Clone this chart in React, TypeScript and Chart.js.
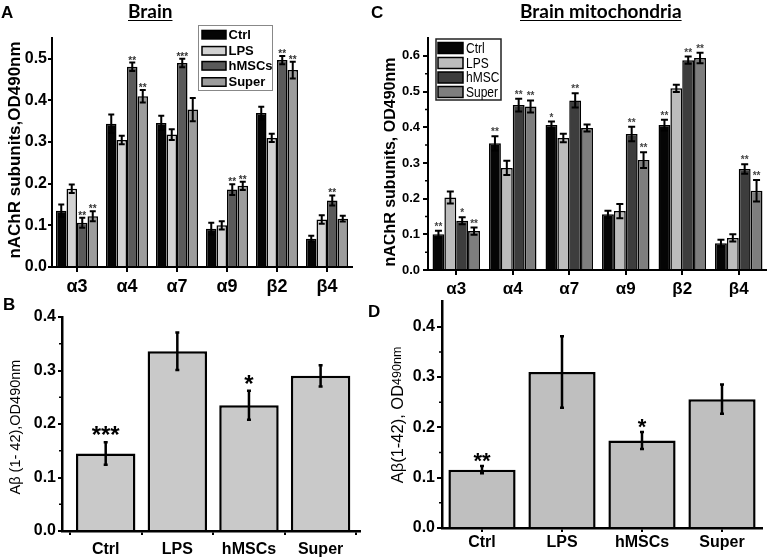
import React, { useEffect, useRef } from 'react';
import { Chart, registerables } from 'chart.js';

Chart.register(...registerables);

// ---------------- data ----------------
const subunits = ['α3', 'α4', 'α7', 'α9', 'β2', 'β4'];
const seriesNamesA = ['Ctrl', 'LPS', 'hMSCs', 'Super'];
const seriesNamesC = ['Ctrl', 'LPS', 'hMSC', 'Super'];

// Panel A: Brain
const brainCtrl = [0.135, 0.344, 0.346, 0.092, 0.370, 0.068];
const brainLps = [0.188, 0.305, 0.318, 0.100, 0.310, 0.114];
const brainHmsc = [0.106, 0.481, 0.490, 0.186, 0.497, 0.160];
const brainSuper = [0.122, 0.410, 0.378, 0.195, 0.473, 0.116];
const brainCtrlErr = [0.015, 0.022, 0.017, 0.014, 0.015, 0.007];
const brainLpsErr = [0.010, 0.010, 0.013, 0.010, 0.010, 0.010];
const brainHmscErr = [0.012, 0.010, 0.010, 0.013, 0.010, 0.012];
const brainSuperErr = [0.012, 0.015, 0.028, 0.010, 0.020, 0.007];
const brainCtrlStars = ['', '', '', '', '', ''];
const brainLpsStars = ['', '', '', '', '', ''];
const brainHmscStars = ['**', '**', '***', '**', '**', '**'];
const brainSuperStars = ['**', '**', '', '**', '**', ''];
const yTicksA = [0, 0.1, 0.2, 0.3, 0.4, 0.5];

// Panel C: Brain mitochondria
const mitoCtrl = [0.100, 0.355, 0.406, 0.156, 0.406, 0.075];
const mitoLps = [0.203, 0.286, 0.370, 0.165, 0.509, 0.090];
const mitoHmsc = [0.138, 0.462, 0.475, 0.381, 0.588, 0.283];
const mitoSuper = [0.109, 0.458, 0.398, 0.308, 0.594, 0.222];
const mitoCtrlErr = [0.010, 0.020, 0.010, 0.010, 0.015, 0.010];
const mitoLpsErr = [0.017, 0.020, 0.012, 0.020, 0.010, 0.010];
const mitoHmscErr = [0.010, 0.018, 0.020, 0.020, 0.010, 0.013];
const mitoSuperErr = [0.010, 0.017, 0.010, 0.022, 0.015, 0.030];
const mitoCtrlStars = ['**', '**', '*', '', '**', ''];
const mitoLpsStars = ['', '', '', '', '', ''];
const mitoHmscStars = ['*', '**', '**', '**', '**', '**'];
const mitoSuperStars = ['**', '**', '', '**', '**', '**'];
const yTicksC = [0, 0.1, 0.2, 0.3, 0.4, 0.5, 0.6];
const yMinorC = [0.05, 0.15, 0.25, 0.35, 0.45, 0.55];

// Panel B: Abeta brain
const groupsAb = ['Ctrl', 'LPS', 'hMSCs', 'Super'];
const abBrain = [0.145, 0.336, 0.235, 0.290];
const abBrainErr = [0.021, 0.035, 0.027, 0.020];
const abBrainStars = ['***', '', '*', ''];
const yTicksB = [0, 0.1, 0.2, 0.3, 0.4];
const yMinorB = [0.05, 0.15, 0.25, 0.35];

// Panel D: Abeta mitochondria
const abMito = [0.116, 0.310, 0.174, 0.256];
const abMitoErr = [0.007, 0.071, 0.017, 0.029];
const abMitoStars = ['**', '', '*', ''];
const yTicksD = [0, 0.1, 0.2, 0.3, 0.4];
const yMinorD = [0.05, 0.15, 0.25, 0.35];

// ---------------- styles ----------------
const SANS = '"Liberation Sans", Arial, sans-serif';
const colorsA = ['#050505', '#d2d2d2', '#5a5a5a', '#9c9c9c'];
const colorsC = ['#050505', '#bcbcbc', '#3d3d3d', '#7e7e7e'];
const colorB = '#c9c9c9';
const colorD = '#bfbfbf';

type LegendCfg = {
  box: [number, number, number, number];
  boxColor: string;
  boxWidth: number;
  swatchX: number;
  swatchW: number;
  swatchH: number;
  rows: number[];
  textX: number;
  font: string;
  sx: number;
};

type DecorCfg = {
  errors: number[][];
  stars: string[][];
  errWidth: number;
  cap: number;
  starFont: string;
  starColor: string;
  starDy: number;
  minor?: number[];
  minorLen?: number;
  yTitle?: { x: number; y: number; parts: { text: string; font: string }[] };
  legend?: LegendCfg;
};

function makeDecor(cfg: DecorCfg) {
  return {
    id: 'decor',
    afterDatasetsDraw(chart: any) {
      const ctx = chart.ctx as CanvasRenderingContext2D;
      const ys = chart.scales.y;
      chart.data.datasets.forEach((ds: any, di: number) => {
        const meta = chart.getDatasetMeta(di);
        const errs = cfg.errors[di] || [];
        const stars = cfg.stars[di] || [];
        meta.data.forEach((el: any, i: number) => {
          const raw = ds.data[i];
          const val = typeof raw === 'number' ? raw : raw.y;
          const e = errs[i] ?? 0;
          const x = el.x;
          const yT = ys.getPixelForValue(val + e);
          const yB = ys.getPixelForValue(val - e);
          ctx.save();
          ctx.strokeStyle = '#000';
          ctx.lineWidth = cfg.errWidth;
          ctx.beginPath();
          ctx.moveTo(x, yT);
          ctx.lineTo(x, yB);
          ctx.moveTo(x - cfg.cap, yT);
          ctx.lineTo(x + cfg.cap, yT);
          ctx.moveTo(x - cfg.cap, yB);
          ctx.lineTo(x + cfg.cap, yB);
          ctx.stroke();
          const s = stars[i];
          if (s) {
            ctx.fillStyle = cfg.starColor;
            ctx.font = cfg.starFont;
            ctx.textAlign = 'center';
            ctx.textBaseline = 'alphabetic';
            ctx.fillText(s, x, yT + cfg.starDy);
          }
          ctx.restore();
        });
      });
    },
    afterDraw(chart: any) {
      const ctx = chart.ctx as CanvasRenderingContext2D;
      const ys = chart.scales.y;
      const left = chart.chartArea.left;
      ctx.save();
      if (cfg.minor) {
        ctx.strokeStyle = '#000';
        ctx.lineWidth = 1.5;
        ctx.beginPath();
        cfg.minor.forEach((v) => {
          const py = ys.getPixelForValue(v);
          ctx.moveTo(left - (cfg.minorLen || 3), py);
          ctx.lineTo(left, py);
        });
        ctx.stroke();
      }
      if (cfg.yTitle) {
        const t = cfg.yTitle;
        ctx.save();
        ctx.translate(t.x, t.y);
        ctx.rotate(-Math.PI / 2);
        ctx.fillStyle = '#000';
        ctx.textBaseline = 'middle';
        ctx.textAlign = 'left';
        let total = 0;
        const widths = t.parts.map((p) => {
          ctx.font = p.font;
          const w = ctx.measureText(p.text).width;
          total += w;
          return w;
        });
        let cx = -total / 2;
        t.parts.forEach((p, i) => {
          ctx.font = p.font;
          ctx.fillText(p.text, cx, 0);
          cx += widths[i];
        });
        ctx.restore();
      }
      if (cfg.legend) {
        const L = cfg.legend;
        ctx.fillStyle = '#fff';
        ctx.fillRect(L.box[0], L.box[1], L.box[2], L.box[3]);
        ctx.strokeStyle = L.boxColor;
        ctx.lineWidth = L.boxWidth;
        ctx.strokeRect(L.box[0], L.box[1], L.box[2], L.box[3]);
        chart.data.datasets.forEach((ds: any, i: number) => {
          const cy = L.rows[i];
          ctx.fillStyle = ds.backgroundColor;
          ctx.fillRect(L.swatchX, cy - L.swatchH / 2, L.swatchW, L.swatchH);
          ctx.strokeStyle = '#000';
          ctx.lineWidth = 1.5;
          ctx.strokeRect(L.swatchX, cy - L.swatchH / 2, L.swatchW, L.swatchH);
          ctx.save();
          ctx.translate(L.textX, cy + 0.5);
          ctx.scale(L.sx, 1);
          ctx.fillStyle = '#000';
          ctx.font = L.font;
          ctx.textAlign = 'left';
          ctx.textBaseline = 'middle';
          ctx.fillText(ds.label, 0, 0);
          ctx.restore();
        });
      }
      ctx.restore();
    },
  };
}

function yScale(max: number, ticks: number[], width: number, fontSize: number, tickLen: number, pad: number) {
  return {
    min: 0,
    max,
    afterBuildTicks: (a: any) => {
      a.ticks = ticks.map((v) => ({ value: v }));
    },
    afterFit: (a: any) => {
      a.width = width;
    },
    ticks: {
      callback: (v: any) => Number(v).toFixed(1),
      font: { family: SANS, size: fontSize, weight: 'bold' },
      color: '#000',
      padding: pad,
    },
    grid: { drawOnChartArea: false, drawTicks: true, tickLength: tickLen, color: '#000', lineWidth: 2 },
    border: { display: true, color: '#000', width: 2 },
  };
}

function xCategory(height: number, fontSize: number, tickLen: number, pad: number) {
  return {
    offset: true,
    afterFit: (a: any) => {
      a.height = height;
    },
    ticks: { font: { family: SANS, size: fontSize, weight: 'bold' }, color: '#000', padding: pad, maxRotation: 0, autoSkip: false },
    grid: { offset: false, drawOnChartArea: false, drawTicks: true, tickLength: tickLen, color: '#000', lineWidth: 2 },
    border: { display: true, color: '#000', width: 2 },
  };
}

const baseOptions = {
  responsive: false,
  maintainAspectRatio: false,
  animation: false,
  devicePixelRatio: 1,
  plugins: { legend: { display: false }, tooltip: { enabled: false } },
};

function configA(): any {
  const data = [brainCtrl, brainLps, brainHmsc, brainSuper];
  return {
    type: 'bar',
    data: {
      labels: subunits,
      datasets: data.map((d, i) => ({
        label: seriesNamesA[i],
        data: d,
        backgroundColor: colorsA[i],
        borderColor: '#000',
        borderWidth: 1.5,
      })),
    },
    options: {
      ...baseOptions,
      layout: { padding: { top: 38, right: 32, left: 0, bottom: 0 } },
      datasets: { bar: { categoryPercentage: 0.84, barPercentage: 1 } },
      scales: {
        x: xCategory(33, 18, 5, 4),
        y: yScale(0.55, yTicksA, 52, 16, 4, 1),
      },
    },
    plugins: [
      makeDecor({
        errors: [brainCtrlErr, brainLpsErr, brainHmscErr, brainSuperErr],
        stars: [brainCtrlStars, brainLpsStars, brainHmscStars, brainSuperStars],
        errWidth: 2,
        cap: 3,
        starFont: `bold 10px ${SANS}`,
        starColor: '#333',
        starDy: 1,
        yTitle: { x: 15, y: 150, parts: [{ text: 'nAChR subunits,OD490nm', font: `bold 17px ${SANS}` }] },
        legend: {
          box: [198.5, 25.5, 74, 65],
          boxColor: '#888',
          boxWidth: 1,
          swatchX: 202,
          swatchW: 24,
          swatchH: 8.5,
          rows: [34.7, 50.8, 65.8, 82],
          textX: 228.5,
          font: `bold 13px ${SANS}`,
          sx: 1,
        },
      }),
    ],
  };
}

function configC(): any {
  const data = [mitoCtrl, mitoLps, mitoHmsc, mitoSuper];
  return {
    type: 'bar',
    data: {
      labels: subunits,
      datasets: data.map((d, i) => ({
        label: seriesNamesC[i],
        data: d,
        backgroundColor: colorsC[i],
        borderColor: '#000',
        borderWidth: 1.5,
      })),
    },
    options: {
      ...baseOptions,
      layout: { padding: { top: 38, right: 0, left: 0, bottom: 0 } },
      datasets: { bar: { categoryPercentage: 0.84, barPercentage: 1 } },
      scales: {
        x: xCategory(30, 17, 5, 4),
        y: yScale(0.65, yTicksC, 44, 13, 5, 3),
      },
    },
    plugins: [
      makeDecor({
        errors: [mitoCtrlErr, mitoLpsErr, mitoHmscErr, mitoSuperErr],
        stars: [mitoCtrlStars, mitoLpsStars, mitoHmscStars, mitoSuperStars],
        errWidth: 2,
        cap: 3.5,
        starFont: `bold 10px ${SANS}`,
        starColor: '#444',
        starDy: -1,
        minor: yMinorC,
        minorLen: 3,
        yTitle: { x: 7, y: 162, parts: [{ text: 'nAChR subunits, OD490nm', font: `bold 16px ${SANS}` }] },
        legend: {
          box: [52, 39, 65, 61],
          boxColor: '#222',
          boxWidth: 1.5,
          swatchX: 54,
          swatchW: 25,
          swatchH: 11,
          rows: [48, 63, 77.5, 92],
          textX: 82,
          font: `15px ${SANS}`,
          sx: 0.8,
        },
      }),
    ],
  };
}

function configB(): any {
  return {
    type: 'bar',
    data: {
      datasets: [
        {
          label: 'Aβ',
          data: abBrain.map((v, i) => ({ x: i, y: v })),
          backgroundColor: colorB,
          borderColor: '#000',
          borderWidth: 2.5,
        },
      ],
    },
    options: {
      ...baseOptions,
      layout: { padding: { top: 27, right: 24, left: 0, bottom: 0 } },
      datasets: { bar: { categoryPercentage: 0.83, barPercentage: 1 } },
      scales: {
        x: {
          type: 'linear',
          offset: false,
          min: -0.61,
          max: 3.55,
          afterBuildTicks: (a: any) => {
            a.ticks = groupsAb.map((_, i) => ({ value: i }));
          },
          afterFit: (a: any) => {
            a.height = 27;
          },
          ticks: {
            callback: (v: any) => groupsAb[v] ?? '',
            font: { family: SANS, size: 16, weight: 'bold' },
            color: '#000',
            padding: 5,
            maxRotation: 0,
            autoSkip: false,
          },
          grid: { drawOnChartArea: false, drawTicks: true, tickLength: 4, color: '#000', lineWidth: 2 },
          border: { display: true, color: '#000', width: 2.5 },
        },
        y: { ...yScale(0.4, yTicksB, 62, 16, 4, 2), border: { display: true, color: '#000', width: 2.5 } },
      },
    },
    plugins: [
      makeDecor({
        errors: [abBrainErr],
        stars: [abBrainStars],
        errWidth: 2.5,
        cap: 2,
        starFont: `bold 24px ${SANS}`,
        starColor: '#000',
        starDy: 1,
        minor: yMinorB,
        minorLen: 3,
        yTitle: { x: 16, y: 137, parts: [{ text: 'Aβ (1- 42),OD490nm', font: `14.5px ${SANS}` }] },
      }),
    ],
  };
}

function configD(): any {
  return {
    type: 'bar',
    data: {
      labels: groupsAb,
      datasets: [
        {
          label: 'Aβ',
          data: abMito,
          backgroundColor: colorD,
          borderColor: '#000',
          borderWidth: 2.5,
        },
      ],
    },
    options: {
      ...baseOptions,
      layout: { padding: { top: 11, right: 5, left: 0, bottom: 0 } },
      datasets: { bar: { categoryPercentage: 0.84, barPercentage: 1 } },
      scales: {
        x: { ...xCategory(30, 16, 4, 1), border: { display: true, color: '#000', width: 2.5 } },
        y: { ...yScale(0.45, yTicksD, 58, 16, 5, 2), border: { display: true, color: '#000', width: 2.5 } },
      },
    },
    plugins: [
      makeDecor({
        errors: [abMitoErr],
        stars: [abMitoStars],
        errWidth: 2.5,
        cap: 2,
        starFont: `bold 22px ${SANS}`,
        starColor: '#000',
        starDy: 2,
        minor: yMinorD,
        minorLen: 3,
        yTitle: {
          x: 14,
          y: 125,
          parts: [
            { text: 'Aβ(1-42), OD', font: `16.5px ${SANS}` },
            { text: '490nm', font: `12.5px ${SANS}` },
          ],
        },
      }),
    ],
  };
}

function ChartCanvas(props: { make: () => any; left: number; top: number; width: number; height: number }) {
  const ref = useRef<HTMLCanvasElement>(null);
  useEffect(() => {
    const chart = new Chart(ref.current as HTMLCanvasElement, props.make());
    return () => chart.destroy();
  }, []);
  return (
    <canvas
      ref={ref}
      width={props.width}
      height={props.height}
      style={{ position: 'absolute', left: props.left, top: props.top, width: props.width, height: props.height }}
    />
  );
}

const letter = (left: number, top: number): React.CSSProperties => ({
  position: 'absolute',
  left,
  top,
  font: `bold 17px ${SANS}`,
  lineHeight: '17px',
  color: '#000',
});

const titleStyle = (left: number): React.CSSProperties => ({
  position: 'absolute',
  left,
  top: 0,
  font: '700 19px Lato, "Open Sans", sans-serif',
  lineHeight: '22px',
  textDecoration: 'underline',
  textUnderlineOffset: '2px',
  color: '#000',
  whiteSpace: 'nowrap',
});

export default function App() {
  return (
    <div style={{ position: 'fixed', left: 0, top: 0, width: 767, height: 558, background: '#fff', overflow: 'hidden' }}>
      <ChartCanvas make={configA} left={0} top={0} width={384} height={300} />
      <ChartCanvas make={configC} left={384} top={0} width={383} height={300} />
      <ChartCanvas make={configB} left={0} top={290} width={384} height={268} />
      <ChartCanvas make={configD} left={384} top={290} width={383} height={268} />
      <div style={letter(1, 4)}>A</div>
      <div style={letter(371, 4)}>C</div>
      <div style={letter(3, 296)}>B</div>
      <div style={letter(368, 303)}>D</div>
      <div style={titleStyle(128)}>Brain</div>
      <div style={titleStyle(520)}>Brain mitochondria</div>
    </div>
  );
}
